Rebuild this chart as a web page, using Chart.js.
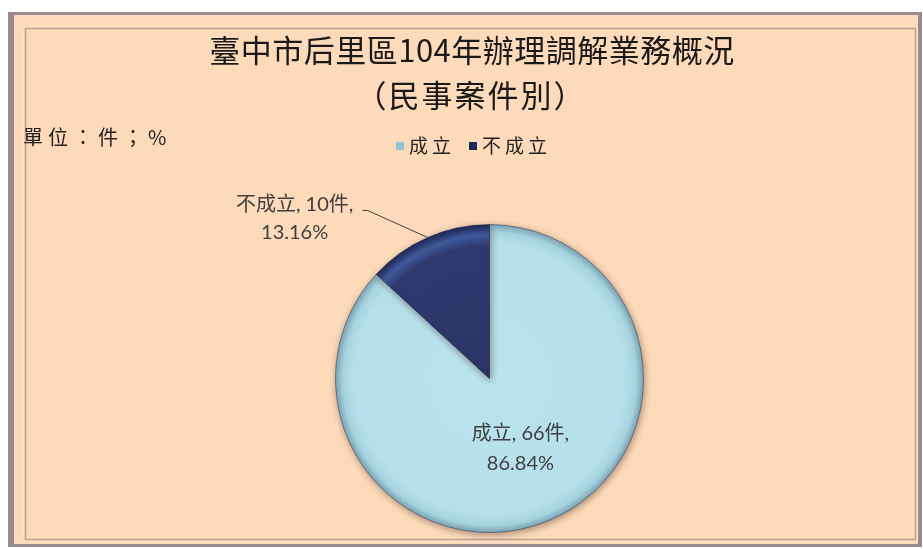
<!DOCTYPE html>
<html>
<head>
<meta charset="utf-8">
<script src="https://cdn.jsdelivr.net/npm/chart.js@4.4.1/dist/chart.umd.min.js"></script>
<style>
  html, body { margin: 0; padding: 0; background: #ffffff; }
  #wrap { position: relative; width: 923px; height: 549px; }
  canvas { display: block; }
</style>
</head>
<body>
<div id="wrap"><canvas id="c" width="923" height="549"></canvas></div>
<script>
// ---- data ----
const categories = ['成立', '不成立'];
const counts = [66, 10];
const percents = ['86.84%', '13.16%'];
const titleLines = ['臺中市后里區104年辦理調解業務概況', '（民事案件別）'];
const unitText = '單位：件；%';

const baseColors = ['#B6E0EB', '#2C376A'];
const legendSwatch = ['#8FC3D6', '#1F2A5A'];

function sliceFill(ctx) {
  const chart = ctx.chart;
  const a = chart.chartArea;
  const i = ctx.dataIndex;
  if (!a) return baseColors[i];
  const cx = (a.left + a.right) / 2, cy = (a.top + a.bottom) / 2;
  const r = Math.min(a.right - a.left, a.bottom - a.top) / 2;
  const g = chart.ctx.createRadialGradient(cx, cy, 0, cx, cy, r);
  if (i === 0) {
    g.addColorStop(0, '#B9E3ED');
    g.addColorStop(0.88, '#B5DFEA');
    g.addColorStop(0.95, '#A6D2DF');
    g.addColorStop(1, '#7AA2B3');
  } else {
    g.addColorStop(0, '#2A3466');
    g.addColorStop(0.86, '#2E3A6E');
    g.addColorStop(0.93, '#3E5A9C');
    g.addColorStop(1, '#1C2552');
  }
  return g;
}

const framePlugin = {
  id: 'frame',
  beforeDraw(chart) {
    const c = chart.ctx;
    c.save();
    c.fillStyle = '#ffffff';
    c.fillRect(0, 0, 923, 549);
    c.fillStyle = '#978B8D';
    c.fillRect(8, 12, 914, 535);
    c.fillStyle = '#FDDAB9';
    c.fillRect(14, 15, 904, 529);
    c.strokeStyle = '#BFA08A';
    c.lineWidth = 1.5;
    c.strokeRect(25.5, 28.5, 890, 511);
    c.strokeStyle = '#F6E4D2';
    c.lineWidth = 1;
    c.strokeRect(23.5, 26.5, 894, 515);
    c.restore();
  },
  beforeDatasetsDraw(chart) {
    const c = chart.ctx;
    c.save();
    c.shadowColor = 'rgba(60,40,30,0.45)';
    c.shadowBlur = 7;
    c.shadowOffsetX = 1;
    c.shadowOffsetY = 2;
  },
  afterDatasetsDraw(chart) {
    chart.ctx.restore();
  },
  afterDraw(chart) {
    const c = chart.ctx;
    c.save();
    // title
    c.fillStyle = '#1a1a1a';
    c.textAlign = 'center';
    c.textBaseline = 'middle';
    c.font = '31px "Noto Sans CJK TC"';
    c.letterSpacing = '0.5px';
    c.fillText(titleLines[0], 472, 50);
    c.letterSpacing = '2px';
    c.fillText(titleLines[1], 471, 95);
    // unit
    c.textAlign = 'left';
    c.font = '20px "Noto Sans CJK TC"';
    c.letterSpacing = '5px';
    c.fillStyle = '#222';
    c.fillText(unitText, 23, 137);
    // legend
    c.letterSpacing = '4px';
    c.font = '19px "Noto Sans CJK TC"';
    let x = 396;
    const ly = 146;
    categories.forEach((name, i) => {
      c.fillStyle = legendSwatch[i];
      c.fillRect(x, ly - 4, 8, 8);
      c.fillStyle = '#222';
      c.fillText(name, x + 13, ly);
      x += 13 + c.measureText(name).width + 14;
    });
    // data labels
    c.letterSpacing = '0px';
    c.font = '20px Lato, "Noto Sans CJK TC", sans-serif';
    c.fillStyle = '#404040';
    c.textAlign = 'center';
    const meta = chart.getDatasetMeta(0);
    meta.data.forEach((arc, i) => {
      const mid = (arc.startAngle + arc.endAngle) / 2;
      const r = arc.outerRadius;
      const l1 = categories[i] + ', ' + counts[i] + '件,';
      const l2 = percents[i];
      if (i === 0) {
        const px = arc.x + Math.cos(mid) * r * 0.5;
        const py = arc.y + Math.sin(mid) * r * 0.5;
        c.fillText(l1, px, py - 15);
        c.fillText(l2, px, py + 15);
      } else {
        const ex = arc.x + Math.cos(mid) * r;
        const ey = arc.y + Math.sin(mid) * r;
        const bx = ex - 60, by = ey - 27;
        c.strokeStyle = '#404040';
        c.lineWidth = 1;
        c.beginPath();
        c.moveTo(ex, ey);
        c.lineTo(bx, by);
        c.lineTo(bx - 5, by);
        c.stroke();
        const tx = bx - 73;
        c.fillText(l1, tx, by - 6);
        c.fillText(l2, tx, by + 22);
      }
    });
    c.restore();
  }
};

new Chart(document.getElementById('c'), {
  type: 'pie',
  data: {
    labels: categories,
    datasets: [{
      data: counts,
      backgroundColor: sliceFill,
      borderColor: 'rgba(30,40,70,0.45)',
      borderWidth: 1
    }]
  },
  options: {
    responsive: false,
    animation: false,
    devicePixelRatio: 1,
    layout: { padding: { left: 335, right: 279, top: 223, bottom: 15 } },
    plugins: {
      legend: { display: false },
      title: { display: false },
      tooltip: { enabled: false }
    }
  },
  plugins: [framePlugin]
});
</script>
</body>
</html>
